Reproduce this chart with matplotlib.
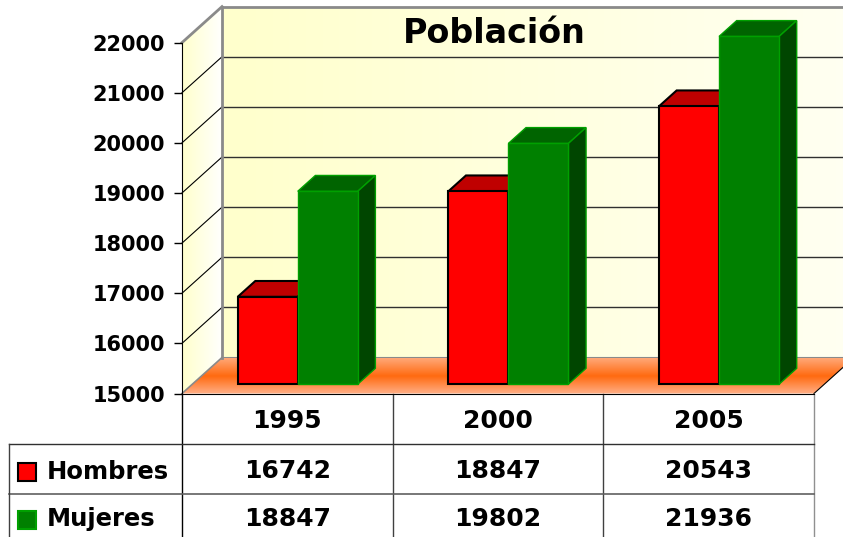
import numpy as np
import matplotlib
matplotlib.use("Agg")
import matplotlib.pyplot as plt
import matplotlib.transforms as mtransforms
from matplotlib.patches import Polygon, Rectangle
from matplotlib.colors import LinearSegmentedColormap

# ---------- datos ----------
years = ["1995", "2000", "2005"]
series_names = ["Hombres", "Mujeres"]
hombres = [16742, 18847, 20543]
mujeres = [18847, 19802, 21936]
y_ticks = [15000, 16000, 17000, 18000, 19000, 20000, 21000, 22000]

# ---------- estilo ----------
W, H = 843, 537
Y0, Y1 = y_ticks[0], y_ticks[-1]
DX, DY = 0.19, 718          # profundidad del cubo en unidades de datos
F0, F1 = 0.26, 0.70         # barras: frente / fondo en la profundidad
BAR_W = 0.285
# frente, arriba, lado, borde
colors = {
    "Hombres": ("#ff0000", "#bf0000", "#8c0000", "black"),
    "Mujeres": ("#008000", "#006400", "#004600", "#00a000"),
}

plt.rcParams['font.family'] = ['DejaVu Sans']
plt.rcParams['font.weight'] = 'bold'

fig = plt.figure(figsize=(W / 100, H / 100), dpi=100)
ax = fig.add_axes([182 / W, 1 - 393.5 / H, 632 / W, 350.9 / H])
ax.set_autoscale_on(False)
ax.set_xlim(-0.5, 2.5)
ax.set_ylim(Y0, Y1)
ax.patch.set_visible(False)


def gradient_fill(pts, cols, horizontal, z):
    """relleno con degradado recortado a un poligono"""
    poly = Polygon(pts, closed=True, facecolor='none', edgecolor='none')
    ax.add_patch(poly)
    xs = [p[0] for p in pts]
    ys = [p[1] for p in pts]
    cmap = LinearSegmentedColormap.from_list('g', cols)
    g = np.linspace(0, 1, 256)
    img = g[None, :] if horizontal else g[:, None]
    im = ax.imshow(img, cmap=cmap, extent=[min(xs), max(xs), min(ys), max(ys)],
                   origin='lower', aspect='auto', zorder=z, interpolation='bilinear')
    im.set_clip_path(poly)
    im.set_clip_box(fig.bbox)
    return im


# pared de fondo
gradient_fill([(-0.5 + DX, Y0 + DY), (2.5 + DX, Y0 + DY), (2.5 + DX, Y1 + DY), (-0.5 + DX, Y1 + DY)],
              ["#ffffcc", "#fffff2"], True, 0.5)
# pared lateral
gradient_fill([(-0.5, Y0), (-0.5 + DX, Y0 + DY), (-0.5 + DX, Y1 + DY), (-0.5, Y1)],
              ["#ffffcc", "#ffffff"], True, 0.5)
# suelo
gradient_fill([(-0.5, Y0), (2.5, Y0), (2.5 + DX, Y0 + DY), (-0.5 + DX, Y0 + DY)],
              ["#ffb088", "#ff6a10", "#ffa878"], False, 0.6)

# lineas de division
for v in y_ticks[1:-1]:
    ax.plot([-0.5 + DX, 2.5 + DX], [v + DY, v + DY], color='#303030', lw=1, clip_on=False, zorder=1)
    ax.plot([-0.5, -0.5 + DX], [v, v + DY], color='black', lw=0.8, clip_on=False, zorder=1)

# bordes del cubo
edge_kw = dict(color='#8a8a8a', lw=2, clip_on=False, zorder=1.2)
ax.plot([-0.5 + DX, 2.5 + DX + 0.2], [Y1 + DY, Y1 + DY], **edge_kw)
ax.plot([-0.5 + DX, -0.5 + DX], [Y0 + DY, Y1 + DY], **edge_kw)
ax.plot([-0.5, -0.5 + DX], [Y1, Y1 + DY], **edge_kw)
ax.plot([-0.5, -0.5 + DX], [Y0, Y0 + DY], color='#8a8a8a', lw=1.2, clip_on=False, zorder=1.2)
ax.plot([-0.5 + DX, 2.5 + DX], [Y0 + DY, Y0 + DY], color='#8a8a8a', lw=1.5, clip_on=False, zorder=0.55)
ax.plot([2.5, 2.5 + DX], [Y0, Y0 + DY], color='black', lw=0.8, clip_on=False, zorder=1.2)

# barras 3D
x = np.arange(len(years))
z = 2
for j, (name, vals) in enumerate(zip(series_names, [hombres, mujeres])):
    front, top, side, edge = colors[name]
    lw = 1.5 if name == "Hombres" else 1.0
    xl = x - BAR_W + j * BAR_W
    vals = np.array(vals)
    ax.bar(xl + F0 * DX, vals - Y0, width=BAR_W, bottom=Y0 + F0 * DY, align='edge',
           color=front, edgecolor=edge, lw=lw, clip_on=False, zorder=z)
    for xi, v in zip(xl, vals):
        xr = xi + BAR_W
        top_pts = [(xi + F0 * DX, v + F0 * DY), (xr + F0 * DX, v + F0 * DY),
                   (xr + F1 * DX, v + F1 * DY), (xi + F1 * DX, v + F1 * DY)]
        side_pts = [(xr + F0 * DX, Y0 + F0 * DY), (xr + F1 * DX, Y0 + F1 * DY),
                    (xr + F1 * DX, v + F1 * DY), (xr + F0 * DX, v + F0 * DY)]
        ax.add_patch(Polygon(top_pts, closed=True, facecolor=top, edgecolor=edge,
                             lw=lw, clip_on=False, zorder=z - 0.1))
        ax.add_patch(Polygon(side_pts, closed=True, facecolor=side, edgecolor=edge,
                             lw=lw, clip_on=False, zorder=z - 0.1))
    z += 1

# ejes
ax.set_yticks(y_ticks)
ax.set_yticklabels([str(t) for t in y_ticks], fontsize=15, fontweight='bold')
ax.tick_params(axis='y', direction='out', length=6, width=1, pad=6, colors='black')
ax.set_xticks([])
for s in ['top', 'right']:
    ax.spines[s].set_visible(False)
ax.spines['left'].set_color('black')
ax.spines['bottom'].set_color('black')
ax.spines['left'].set_zorder(10)
ax.spines['bottom'].set_zorder(10)

# titulo
fig.text(494 / W, 1 - 43 / H, "Población", ha='center', va='baseline',
         fontsize=24, fontweight='bold', zorder=20)

# tabla de datos
bt = mtransforms.blended_transform_factory(ax.transData, fig.transFigure)


def fy(px):
    return 1 - px / H


fig.add_artist(plt.Line2D([182 / W, 182 / W], [fy(393.5), 0], color='black', lw=1))
for b in [0.5, 1.5]:
    ax.plot([b, b], [fy(393.5), 0], color='#404040', lw=1, transform=bt, clip_on=False)
ax.plot([2.5, 2.5], [fy(393.5), 0], color='#909090', lw=1, transform=bt, clip_on=False)
fig.add_artist(plt.Line2D([9 / W, 814 / W], [fy(444), fy(444)], color='#303030', lw=1))
fig.add_artist(plt.Line2D([9 / W, 814 / W], [fy(494), fy(494)], color='#606060', lw=1.2))
fig.add_artist(plt.Line2D([9 / W, 9 / W], [fy(444), 0], color='#404040', lw=1))

for i, yr in enumerate(years):
    ax.text(i, fy(428), yr, transform=bt, ha='center', va='baseline', fontsize=18, fontweight='bold')
for row_base, vals in zip([478.5, 526], [hombres, mujeres]):
    for i, v in enumerate(vals):
        ax.text(i, fy(row_base), str(v), transform=bt, ha='center', va='baseline',
                fontsize=18, fontweight='bold')

# claves de la leyenda
for name, key_top, base in zip(series_names, [463, 511], [479, 526]):
    front, _, _, edge = colors[name]
    fig.add_artist(Rectangle((18 / W, fy(key_top + 18)), 18 / W, 18 / H, transform=fig.transFigure,
                             facecolor=front, edgecolor=edge, lw=1.5))
    fig.text(47 / W, fy(base), name, ha='left', va='baseline', fontsize=17.5, fontweight='bold')

fig.savefig("out.png", dpi=100)
